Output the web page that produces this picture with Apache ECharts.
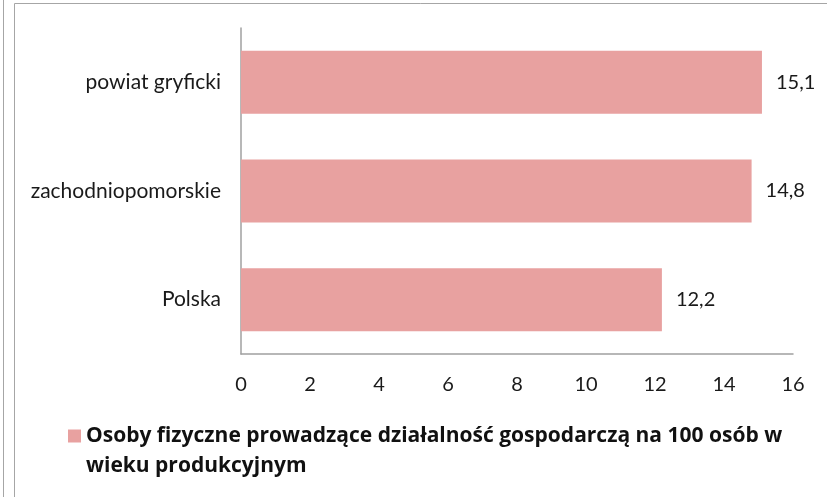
<!DOCTYPE html>
<html lang="pl">
<head>
    <meta charset="UTF-8">
    <title>Osoby fizyczne prowadzące działalność gospodarczą</title>
    <script src="https://cdn.jsdelivr.net/npm/echarts@6/dist/echarts.min.js"></script>
</head>
<body style="margin:0;background:#fff;">
    <div id="main" style="width:827px;height:497px;"></div>
    <script type="text/javascript">
        // dane z wykresu (od dołu do góry)
        var categories = ['Polska', 'zachodniopomorskie', 'powiat gryficki'];
        var values = [12.2, 14.8, 15.1];
        var seriesName = 'Osoby fizyczne prowadzące działalność gospodarczą na 100 osób w wieku produkcyjnym';
        var xTicks = [0, 2, 4, 6, 8, 10, 12, 14, 16];

        var myChart = echarts.init(document.getElementById('main'));

        var option = {
            backgroundColor: '#ffffff',
            textStyle: { fontFamily: 'Lato' },
            graphic: [
                { type: 'line', shape: { x1: 3.5, y1: 0, x2: 3.5, y2: 497 }, style: { stroke: '#a6a6a6', lineWidth: 1 } },
                { type: 'line', shape: { x1: 14.5, y1: 3.5, x2: 14.5, y2: 497 }, style: { stroke: '#a6a6a6', lineWidth: 1 } },
                { type: 'line', shape: { x1: 14.5, y1: 3.5, x2: 827, y2: 3.5 }, style: { stroke: '#a6a6a6', lineWidth: 1 } }
            ],
            grid: {
                left: 241,
                right: 34,
                top: 28,
                height: 326,
                containLabel: false
            },
            legend: {
                left: 68,
                top: 391,
                padding: 0,
                itemWidth: 13,
                itemHeight: 13,
                itemGap: 0,
                icon: 'rect',
                data: [seriesName],
                // pusta pierwsza linia, zeby kwadrat stal przy pierwszym wierszu tekstu
                formatter: function (name) {
                    return '\nOsoby fizyczne prowadzące działalność gospodarczą na 100 osób w\nwieku produkcyjnym';
                },
                textStyle: {
                    fontFamily: 'Open Sans',
                    fontSize: 21,
                    fontWeight: 'bold',
                    color: '#111',
                    lineHeight: 30
                }
            },
            xAxis: {
                type: 'value',
                min: 0,
                max: 16,
                interval: 2,
                splitLine: { show: false },
                axisLine: { show: true, lineStyle: { color: '#a0a0a0', width: 1.5 } },
                axisTick: { show: false },
                axisLabel: {
                    margin: 21,
                    fontSize: 20,
                    color: '#1a1a1a',
                    formatter: function (v) { return xTicks.indexOf(v) >= 0 ? String(v) : ''; }
                }
            },
            yAxis: {
                type: 'category',
                data: categories,
                axisLine: { show: true, lineStyle: { color: '#a0a0a0', width: 1.5 } },
                axisTick: { show: false },
                axisLabel: { margin: 20, fontSize: 21, color: '#1a1a1a' }
            },
            series: [{
                name: seriesName,
                type: 'bar',
                data: values,
                barCategoryGap: '42%',
                itemStyle: { color: '#e8a1a0' },
                label: {
                    show: true,
                    position: 'right',
                    distance: 14,
                    fontSize: 20,
                    color: '#1a1a1a',
                    formatter: function (p) { return String(p.value).replace('.', ','); }
                }
            }]
        };
        myChart.setOption(option);
    </script>
</body>
</html>
